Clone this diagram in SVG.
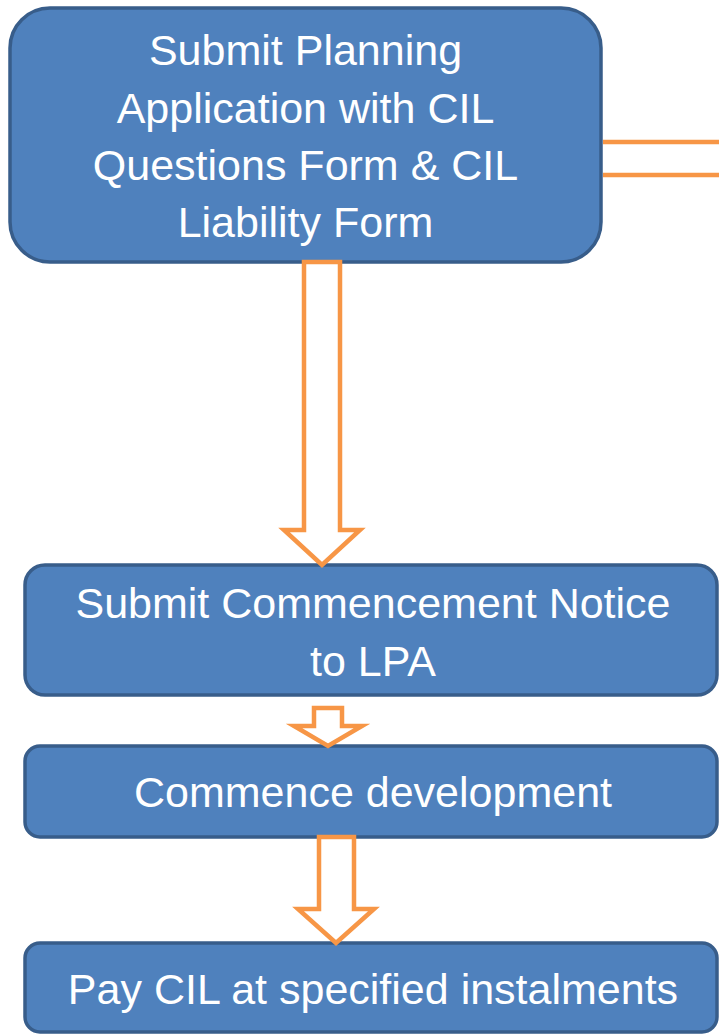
<svg xmlns="http://www.w3.org/2000/svg" width="719" height="1034" viewBox="0 0 719 1034">
<style>
.box{fill:#4F81BD;stroke:#385D8A;stroke-width:3.5}
.arr{fill:#FFFFFF;stroke:#F79646;stroke-width:4.5;stroke-linejoin:miter}
.line{fill:none;stroke:#F79646;stroke-width:4.5}
text{font-family:"Liberation Sans",Arial,sans-serif;font-size:43px;fill:#FFFFFF;text-anchor:middle}
</style>
<rect width="719" height="1034" fill="#FFFFFF"/>
<g id="n1">
<rect class="box" x="10" y="8" width="591" height="254" rx="40" ry="40"/>
<text x="305.5" y="65">Submit Planning</text>
<text x="305.5" y="123">Application with CIL</text>
<text x="305.5" y="180">Questions Form &amp; CIL</text>
<text x="305.5" y="237">Liability Form</text>
</g>
<g id="n2">
<rect class="box" x="25" y="565" width="692" height="130" rx="20" ry="20"/>
<text x="373" y="618">Submit Commencement Notice</text>
<text x="373" y="676">to LPA</text>
</g>
<g id="n3">
<rect class="box" x="25" y="746" width="692" height="91" rx="15" ry="15"/>
<text x="373" y="807">Commence development</text>
</g>
<g id="n4">
<rect class="box" x="25" y="943" width="692" height="89" rx="15" ry="15"/>
<text x="373" y="1004">Pay CIL at specified instalments</text>
</g>
<g id="connectors">
<polygon class="arr" points="304,262 340,262 340,530 360,530 322,565 284,530 304,530"/>
<polygon class="arr" points="314,708 342,708 342,726 362,726 328,746 294,726 314,726"/>
<polygon class="arr" points="319,837 354,837 354,909 374,909 336,943 298,909 319,909"/>
<line class="line" x1="603" y1="142" x2="719" y2="142"/>
<line class="line" x1="603" y1="175" x2="719" y2="175"/>
</g>
</svg>
